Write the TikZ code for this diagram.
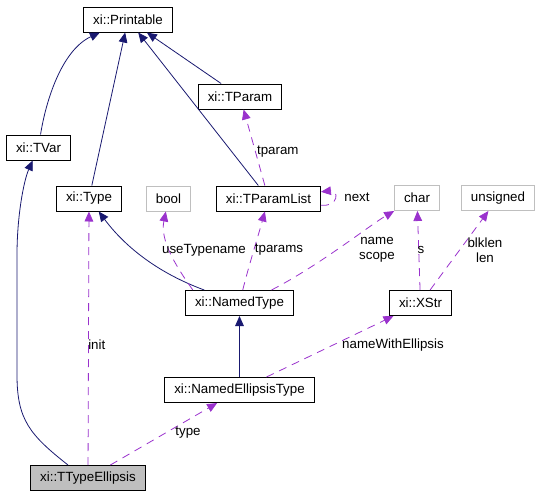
\documentclass[tikz,border=0pt]{standalone}
\usepackage{fontspec}
\setmainfont{Liberation Sans}
\usepackage{tikz}
\usetikzlibrary{shapes,arrows,arrows.meta}
\definecolor{inhblue}{RGB}{25,25,112}
\definecolor{usepurple}{RGB}{154,50,205}
\definecolor{extgray}{RGB}{191,191,191}
\tikzstyle{cls} = [draw, rectangle, line width=0.75pt, minimum height=18.75pt,
    inner xsep=7pt, inner ysep=0pt, font=\fontsize{10}{11}\selectfont]
\tikzstyle{ext} = [cls, draw=extgray]
\tikzstyle{inh} = [-{Triangle[length=7.5pt,width=6.5pt]}, inhblue, line width=0.6pt]
\tikzstyle{use} = [-{Triangle[length=7.5pt,width=6.5pt]}, usepurple, line width=0.6pt,
    dash pattern=on 6pt off 4.5pt]
\tikzstyle{lbl} = [font=\fontsize{10}{11}\selectfont, align=center, inner sep=0pt, text=black]

\begin{document}
\begin{tikzpicture}[x=0.75pt, y=-0.75pt]
  \useasboundingbox (0,0) rectangle (540,496);
  \node [cls] (printable) at (128,19.5) {xi::Printable};
  \node [cls] (tparam) at (240,96.5) {xi::TParam};
  \node [cls] (tvar) at (38.5,147.5) {xi::TVar};
  \node [cls] (type) at (89,198.5) {xi::Type};
  \node [ext] (bool) at (168.5,198.5) {bool};
  \node [cls] (tparamlist) at (268.5,198.5) {xi::TParamList};
  \node [ext] (char) at (417,198) {char};
  \node [ext] (unsigned) at (498,198) {unsigned};
  \node [cls] (namedtype) at (239.5,303) {xi::NamedType};
  \node [cls] (xstr) at (420.5,303) {xi::XStr};
  \node [cls] (namedellipsis) at (239.5,390) {xi::NamedEllipsisType};
  \node [cls, fill=extgray] (ttypeellipsis) at (88,478) {xi::TTypeEllipsis};

  \draw [inh] (tvar) .. controls (46,100) and (62,50) .. (printable);
  \draw [inh] (type) -- (printable);
  \draw [inh] (tparamlist) -- (printable);
  \draw [inh] (tparam) -- (printable);
  \draw [inh] ([xshift=-15pt]ttypeellipsis.north) .. controls (30,435) and (17,420) .. (17,375)
    -- (17,255) .. controls (17,215) and (24,180) .. (tvar);
  \draw [inh] (namedtype) .. controls (150,270) and (120,240) .. (type);
  \draw [inh] (namedellipsis) -- (namedtype);

  \draw [use] (tparamlist) -- node [lbl, right, pos=0.45, xshift=1pt] {tparam} (tparam);
  \draw [use] ([yshift=-5pt]tparamlist.east) .. controls +(18,2) and +(18,-2)
    .. ([yshift=5pt]tparamlist.east);
  \node [lbl] (nextlbl) at (357,197) {next};
  \draw [use] ([xshift=-35pt]namedtype.north) .. controls (175,265) and (160,240) .. (bool);
  \node [lbl] (usetypenamelbl) at (204,250) {useTypename};
  \draw [use] (namedtype) .. controls (249,265) and (257,240) .. (tparamlist);
  \node [lbl] (tparamslbl) at (279,250) {tparams};
  \draw [use] ([xshift=24pt]namedtype.north) .. controls (320,265) and (370,225) .. (char.south west);
  \node [lbl] (namelbl) at (377,250) {name\\scope};
  \draw [use] (xstr) -- (char);
  \node [lbl] (slbl) at (421,250) {s};
  \draw [use] (xstr) -- (unsigned);
  \node [lbl] (blklenlbl) at (485,250) {blklen\\len};
  \draw [use] (namedellipsis) -- (xstr);
  \node [lbl] (namewithlbl) at (393,345) {nameWithEllipsis};
  \draw [use] (ttypeellipsis) -- (type);
  \node [lbl, anchor=west] (initlbl) at (88,345) {init};
  \draw [use] (ttypeellipsis) -- (namedellipsis);
  \node [lbl] (typelbl) at (188,433) {type};
\end{tikzpicture}
\end{document}
